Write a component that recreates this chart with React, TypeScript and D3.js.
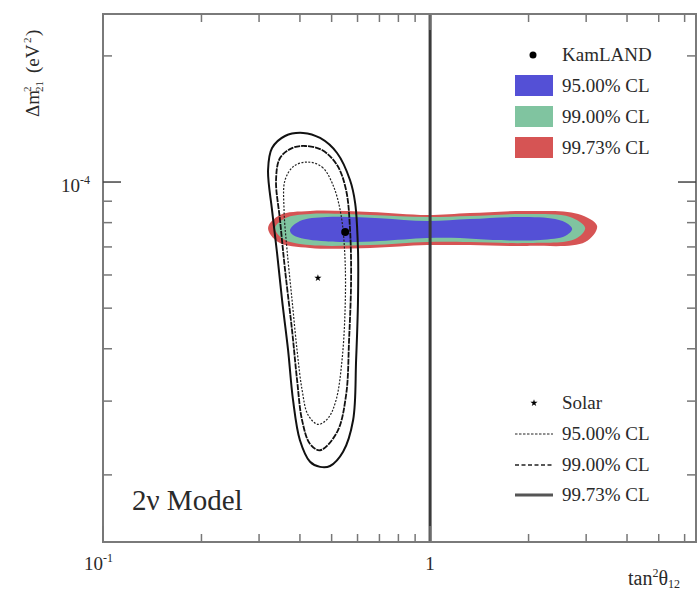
import React from "react";
import * as d3 from "d3";

// ---- data ----
const xDomain = [0.1, 6.5];
const yDomain = [1.383e-5, 2.518e-4];
const xMajorTicks = [0.1, 1];
const xMajorLabels = ["10", "1"];
const xMinorTicks = [0.2, 0.3, 0.4, 0.5, 0.6, 0.7, 0.8, 0.9, 2, 3, 4, 5, 6];
const yMajorTicks = [1e-4];
const yMinorTicks = [2e-5, 3e-5, 4e-5, 5e-5, 6e-5, 7e-5, 8e-5, 9e-5, 2e-4];

// KamLAND allowed regions [tan^2, dm^2]
const kamland9973: [number, number][] = [
  [0.3196, 7.77e-5], [0.3477, 8.34e-5], [0.4295, 8.53e-5], [0.6556, 8.48e-5], [0.979, 8.34e-5],
  [1.325, 8.43e-5], [1.98, 8.53e-5], [2.836, 8.39e-5], [3.24, 7.85e-5], [2.979, 7.19e-5],
  [1.98, 7.04e-5], [1.325, 7.07e-5], [0.979, 7.07e-5], [0.6556, 6.96e-5], [0.4295, 6.96e-5], [0.343, 7.19e-5],
];
const kamland99: [number, number][] = [
  [0.3357, 7.77e-5], [0.3602, 8.2e-5], [0.4295, 8.39e-5], [0.6556, 8.34e-5], [0.979, 8.25e-5],
  [1.325, 8.3e-5], [1.98, 8.39e-5], [2.68, 8.25e-5], [2.979, 7.77e-5], [2.776, 7.31e-5],
  [1.98, 7.15e-5], [1.325, 7.19e-5], [0.979, 7.19e-5], [0.6556, 7.07e-5], [0.4295, 7.07e-5], [0.3551, 7.31e-5],
];
const kamland95: [number, number][] = [
  [0.373, 7.68e-5], [0.4, 8.07e-5], [0.484, 8.25e-5], [0.703, 8.2e-5], [0.979, 8.07e-5],
  [1.325, 8.16e-5], [1.884, 8.25e-5], [2.411, 8.16e-5], [2.642, 7.94e-5], [2.719, 7.72e-5],
  [2.588, 7.43e-5], [2.17, 7.27e-5], [1.558, 7.27e-5], [1.235, 7.35e-5], [0.979, 7.35e-5],
  [0.703, 7.23e-5], [0.5306, 7.19e-5], [0.4147, 7.31e-5], [0.381, 7.47e-5],
];
const kamlandBest: [number, number] = [0.55, 7.6e-5];

// Solar allowed regions
const solar9973: [number, number][] = [
  [0.409, 1.31e-4], [0.461, 1.274e-4], [0.5195, 1.173e-4], [0.569, 1.011e-4], [0.59, 8.91e-5],
  [0.602, 6.88e-5], [0.602, 5.23e-5], [0.594, 3.76e-5], [0.5815, 2.7e-5], [0.542, 2.27e-5],
  [0.4945, 2.1e-5], [0.461, 2.09e-5], [0.4295, 2.15e-5], [0.4, 2.42e-5], [0.381, 3.02e-5],
  [0.368, 3.97e-5], [0.3527, 5.23e-5], [0.3405, 6.77e-5], [0.3287, 8.57e-5], [0.3196, 1.068e-4],
  [0.3287, 1.205e-4], [0.3602, 1.288e-4],
];
const solar99: [number, number][] = [
  [0.4147, 1.219e-4], [0.4674, 1.192e-4], [0.5195, 1.098e-4], [0.5535, 9.57e-5], [0.5693, 7.68e-5],
  [0.5734, 5.84e-5], [0.5653, 4.2e-5], [0.5535, 3.1e-5], [0.5195, 2.53e-5], [0.461, 2.29e-5],
  [0.4295, 2.37e-5], [0.4061, 2.7e-5], [0.392, 3.37e-5], [0.3784, 4.43e-5], [0.3602, 6.17e-5],
  [0.3477, 8.11e-5], [0.3381, 1.011e-4], [0.3477, 1.141e-4], [0.3784, 1.205e-4],
];
const solar95: [number, number][] = [
  [0.4236, 1.116e-4], [0.4674, 1.086e-4], [0.5051, 9.83e-5], [0.5343, 8.34e-5], [0.5496, 6.51e-5],
  [0.5496, 4.95e-5], [0.538, 3.76e-5], [0.516, 3.02e-5], [0.4876, 2.73e-5], [0.4545, 2.64e-5],
  [0.4236, 2.78e-5], [0.4061, 3.19e-5], [0.392, 3.97e-5], [0.3784, 5.23e-5], [0.3653, 6.88e-5],
  [0.3577, 8.57e-5], [0.3602, 1.011e-4], [0.3837, 1.092e-4],
];
const solarBest: [number, number] = [0.454, 5.9e-5];

const kamlandLegend = ["KamLAND", "95.00% CL", "99.00% CL", "99.73% CL"];
const solarLegend = ["Solar", "95.00% CL", "99.00% CL", "99.73% CL"];
const modelLabel = "2\u03bd Model";

const BLUE = "#5450d6";
const GREEN = "#80c4a0";
const RED = "#d65454";

const FONT = "'Liberation Serif'";

export default function App() {
  const W = 698, H = 594;
  const L = 103, R = 696, T = 14, B = 542;
  const x = d3.scaleLog().domain(xDomain).range([L, R]);
  const y = d3.scaleLog().domain(yDomain).range([B, T]);
  const line = d3
    .line<[number, number]>()
    .x((d) => x(d[0]))
    .y((d) => y(d[1]))
    .curve(d3.curveCatmullRomClosed.alpha(0.5));
  const star = d3.symbol().type(d3.symbolStar).size(16)();
  const legX = 515;
  const ts: React.CSSProperties = { fontFamily: FONT };
  const TC = "#2a2a2a";
  return (
    <svg
      width={W}
      height={H}
      style={{ position: "absolute", left: 0, top: 0, background: "#fff", fontFamily: FONT }}
    >
      <rect x={0} y={0} width={W} height={H} fill="#fff" />
      <defs>
        <clipPath id="plot">
          <rect x={L} y={T} width={R - L} height={B - T} />
        </clipPath>
      </defs>
      <g clipPath="url(#plot)">
        <path d={line(kamland9973) || ""} fill={RED} />
        <path d={line(kamland99) || ""} fill={GREEN} />
        <path d={line(kamland95) || ""} fill={BLUE} />
        <path d={line(solar9973) || ""} fill="none" stroke="#111" strokeWidth={2} />
        <path d={line(solar99) || ""} fill="none" stroke="#111" strokeWidth={1.8} strokeDasharray="6,1" />
        <path d={line(solar95) || ""} fill="none" stroke="#222" strokeWidth={1.2} strokeDasharray="2,1.5" />
        <line x1={x(1)} x2={x(1)} y1={T} y2={B} stroke="#3a3a3a" strokeWidth={3} />
        <circle cx={x(kamlandBest[0])} cy={y(kamlandBest[1])} r={4} fill="#000" />
        <path d={star} transform={`translate(${x(solarBest[0])},${y(solarBest[1])})`} fill="#000" />
      </g>

      {/* frame */}
      <rect x={L} y={T} width={R - L} height={B - T} fill="none" stroke="#7a7a7a" strokeWidth={2} />

      {/* x ticks */}
      {xMinorTicks.map((t) => (
        <g key={"xm" + t} stroke="#777" strokeWidth={1.5}>
          <line x1={x(t)} x2={x(t)} y1={B} y2={B - 8} />
          <line x1={x(t)} x2={x(t)} y1={T} y2={T + 8} />
        </g>
      ))}
      {xMajorTicks.map((t) => (
        <g key={"xM" + t} stroke="#777" strokeWidth={1.5}>
          <line x1={x(t)} x2={x(t)} y1={B} y2={B - 16} />
          <line x1={x(t)} x2={x(t)} y1={T} y2={T + 16} />
        </g>
      ))}
      {/* y ticks */}
      {yMinorTicks.map((t) => (
        <g key={"ym" + t} stroke="#777" strokeWidth={1.5}>
          <line x1={L} x2={L + 9} y1={y(t)} y2={y(t)} />
          <line x1={R} x2={R - 9} y1={y(t)} y2={y(t)} />
        </g>
      ))}
      {yMajorTicks.map((t) => (
        <g key={"yM" + t} stroke="#444" strokeWidth={1.5}>
          <line x1={L} x2={L + 18} y1={y(t)} y2={y(t)} />
          <line x1={R} x2={R - 18} y1={y(t)} y2={y(t)} />
        </g>
      ))}

      {/* tick labels */}
      <text style={ts} x={x(0.1) - 19} y={B + 28} fontSize={19} fill={TC}>
        {xMajorLabels[0]}
        <tspan fontSize={12} dy={-8}>-1</tspan>
      </text>
      <text style={ts} x={x(1)} y={B + 28} fontSize={19} fill={TC} textAnchor="middle">
        {xMajorLabels[1]}
      </text>
      <text style={ts} x={L - 42} y={y(1e-4) + 10} fontSize={19} fill={TC}>
        10
        <tspan fontSize={12} dy={-8}>-4</tspan>
      </text>

      {/* x axis title */}
      <text style={ts} x={628} y={585} fontSize={20} fill={TC}>
        tan
        <tspan fontSize={12} dy={-8}>2</tspan>
        <tspan fontSize={20} dy={8}>{"\u03b8"}</tspan>
        <tspan fontSize={12} dy={3}>12</tspan>
      </text>

      {/* y axis title */}
      <g transform="translate(39,117) rotate(-90)" fill={TC}>
        <text style={ts} x={0} y={0} fontSize={19}>{"\u0394m"}</text>
        <text style={ts} x={25} y={-8} fontSize={11}>2</text>
        <text style={ts} x={25} y={4} fontSize={11}>21</text>
        <text style={ts} x={44} y={0} fontSize={19}>(eV</text>
        <text style={ts} x={74} y={-8} fontSize={11}>2</text>
        <text style={ts} x={81} y={0} fontSize={19}>)</text>
      </g>

      {/* model label */}
      <text style={ts} x={132} y={510} fontSize={29} fill={TC}>{modelLabel}</text>

      {/* KamLAND legend */}
      <circle cx={533} cy={55} r={3.5} fill="#000" />
      <text style={ts} x={562} y={61} fontSize={19} fill={TC}>{kamlandLegend[0]}</text>
      {[BLUE, GREEN, RED].map((c, i) => (
        <g key={"kl" + i}>
          <rect x={legX} y={75 + i * 31} width={38} height={21} fill={c} />
          <text style={ts} x={562} y={92 + i * 31} fontSize={19} fill={TC}>{kamlandLegend[i + 1]}</text>
        </g>
      ))}

      {/* Solar legend */}
      <path d={star} transform="translate(534,403)" fill="#000" />
      <text style={ts} x={562} y={409} fontSize={19} fill={TC}>{solarLegend[0]}</text>
      <line x1={legX} x2={553} y1={434} y2={434} stroke="#222" strokeWidth={1} strokeDasharray="2.5,1.5" />
      <text style={ts} x={562} y={440} fontSize={19} fill={TC}>{solarLegend[1]}</text>
      <line x1={legX} x2={553} y1={465} y2={465} stroke="#222" strokeWidth={1.6} strokeDasharray="4,2.5" />
      <text style={ts} x={562} y={471} fontSize={19} fill={TC}>{solarLegend[2]}</text>
      <line x1={legX} x2={553} y1={495} y2={495} stroke="#555" strokeWidth={3} />
      <text style={ts} x={562} y={501} fontSize={19} fill={TC}>{solarLegend[3]}</text>
    </svg>
  );
}
